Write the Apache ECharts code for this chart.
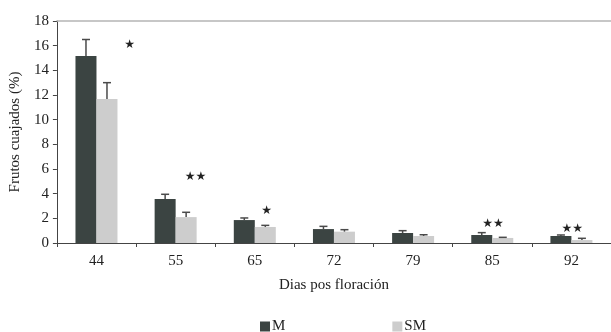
<!DOCTYPE html>
<html><head><meta charset="utf-8">
<script src="https://cdn.jsdelivr.net/npm/echarts@6/dist/echarts.min.js"></script>
<style>html,body{margin:0;padding:0;background:#fff}#c{width:611px;height:332px}</style>
</head><body><div id="c"></div>
<script>
var categories = ['44','55','65','72','79','85','92'];
var valuesM  = [15.17, 3.57, 1.86, 1.13, 0.81, 0.65, 0.57];
var errTopM  = [16.5, 3.95, 2.03, 1.35, 1.0, 0.84, 0.65];
var valuesSM = [11.68, 2.1, 1.30, 0.92, 0.57, 0.41, 0.24];
var errTopSM = [13.0, 2.49, 1.43, 1.08, 0.67, 0.46, 0.38];
var yTicks = [0,2,4,6,8,10,12,14,16,18];
// significance marks: category index, y value, band offset fraction, text
var starCat = [0, 1, 2, 5, 6];
var starY = [16.1, 5.35, 2.6, 1.54, 1.14];
var starOff = [0.42, 0.25, 0.15, 0.01, 0.01];
var starText = ['★', '★★', '★', '★★', '★★'];

var font = 'Liberation Serif';
var colM = '#3b4442', colSM = '#cdcdcd', errCol = '#4a4a4a';
var barW = 21;

var errData = [];
for (var i = 0; i < categories.length; i++) {
  errData.push([i, valuesM[i], errTopM[i], -1]);
  errData.push([i, valuesSM[i], errTopSM[i], 1]);
}
var starData = starCat.map(function(c, k){ return [c, starY[k], starOff[k], starText[k]]; });

var chart = echarts.init(document.getElementById('c'), null, {renderer:'canvas'});
chart.setOption({
  animation: false,
  textStyle: {fontFamily: font},
  grid: {left: 56, top: 21, width: 566, height: 222},
  legend: {
    data: ['M','SM'], left: 255, top: 314, itemWidth: 10, itemHeight: 10, itemGap: 107,
    icon: 'rect', textStyle: {fontFamily: font, fontSize: 15, color: '#222', padding:[0,0,0,-3]}
  },
  xAxis: [{
    type: 'category', data: categories,
    axisLine: {lineStyle: {color: '#444', width: 1}},
    axisTick: {show: true, alignWithLabel: false, length: 4, lineStyle: {color: '#444'}},
    axisLabel: {fontFamily: font, fontSize: 15, color: '#222', margin: 11},
    name: 'Dias pos floración', nameLocation: 'middle', nameGap: 35,
    nameTextStyle: {fontFamily: font, fontSize: 15, color: '#222'}
  }, {
    type: 'category', data: categories, position: 'top',
    axisLine: {lineStyle: {color: '#b5b5b5', width: 1.5}},
    axisTick: {show: false}, axisLabel: {show: false}
  }],
  yAxis: {
    type: 'value', min: 0, max: 18, interval: 2,
    axisLine: {show: true, lineStyle: {color: '#444', width: 1}},
    axisTick: {show: true, length: 4, lineStyle: {color: '#444'}},
    splitLine: {show: false},
    axisLabel: {fontFamily: font, fontSize: 15, color: '#222', margin: 8,
      formatter: function(v){ return yTicks.indexOf(v) >= 0 ? String(v) : ''; }},
    name: 'Frutos cuajados (%)', nameLocation: 'middle', nameGap: 28, nameRotate: 90,
    nameTextStyle: {fontFamily: font, fontSize: 15, color: '#222'}
  },
  series: [
    {name: 'M', type: 'bar', data: valuesM, barWidth: barW, barGap: '0%', itemStyle: {color: colM}},
    {name: 'SM', type: 'bar', data: valuesSM, barWidth: barW, barGap: '0%', itemStyle: {color: colSM}},
    {
      type: 'custom', data: errData, z: 5,
      renderItem: function(params, api){
        var base = api.coord([api.value(0), api.value(1)]);
        var top = api.coord([api.value(0), api.value(2)]);
        var x = base[0] + api.value(3) * barW / 2;
        var cap = 4;
        return {type: 'group', children: [
          {type: 'line', shape: {x1: x, y1: base[1], x2: x, y2: top[1]}, style: {stroke: errCol, lineWidth: 1.5}},
          {type: 'line', shape: {x1: x - cap, y1: top[1], x2: x + cap, y2: top[1]}, style: {stroke: errCol, lineWidth: 1.5}}
        ]};
      }
    },
    {
      type: 'custom', data: starData, z: 6,
      renderItem: function(params, api){
        var p = api.coord([api.value(0), api.value(1)]);
        var band = api.size([1, 0])[0];
        var x = p[0] + api.value(2) * band;
        return {type: 'text', x: x, y: p[1], style: {text: starText[params.dataIndex], fontSize: 12,
          fill: '#222', align: 'center', verticalAlign: 'middle', fontFamily: 'DejaVu Sans'}};
      }
    }
  ]
});
</script></body></html>
